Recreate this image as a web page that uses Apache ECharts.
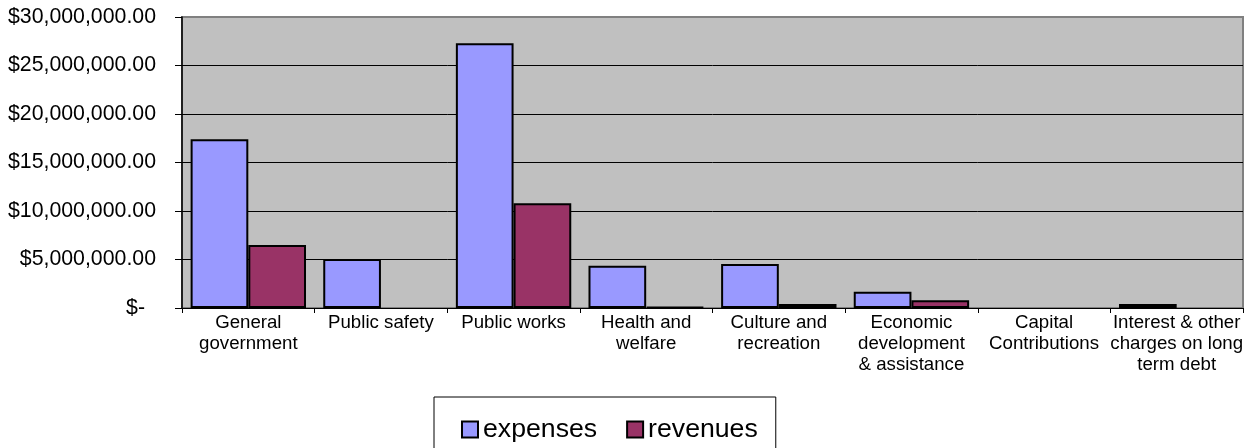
<!DOCTYPE html>
<html>
<head>
<meta charset="utf-8">
<script src="https://cdn.jsdelivr.net/npm/echarts@6/dist/echarts.min.js"></script>
<style>
  html, body { margin: 0; padding: 0; background: #fff; }
  #chart { width: 1253px; height: 448px; }
</style>
</head>
<body>
<div id="chart"></div>
<script>
// Functional categories (line breaks as they wrap under the axis)
const categories = [
  'General\ngovernment',
  'Public safety',
  'Public works',
  'Health and\nwelfare',
  'Culture and\nrecreation',
  'Economic\ndevelopment\n& assistance',
  'Capital\nContributions',
  'Interest & other\ncharges on long\nterm debt'
];

// Dollar amounts per category
const expenses = [17400000, 5050000, 27300000, 4350000, 4530000, 1670000, 0, 400000];
const revenues = [6500000, 0, 10800000, 100000, 400000, 800000, 0, 0];

const seriesNames = ['expenses', 'revenues'];

const FONT = "'Liberation Sans', Arial, sans-serif";

function money(v) {
  if (v === 0) return '{z|$-}';
  return '$' + v.toLocaleString('en-US', { minimumFractionDigits: 2, maximumFractionDigits: 2 });
}

// zero amounts get no outline, so no flat bar is drawn on the axis
function barItems(values) {
  return values.map(v => v === 0 ? { value: v, itemStyle: { borderWidth: 0, opacity: 0 } } : v);
}

const chart = echarts.init(document.getElementById('chart'), null, { renderer: 'canvas' });

chart.setOption({
  animation: false,
  backgroundColor: '#ffffff',
  grid: {
    left: 182, top: 17, right: 10, bottom: 140,
    show: true,
    backgroundColor: '#C0C0C0',
    borderColor: '#808080',
    borderWidth: 2
  },
  legend: {
    data: seriesNames,
    left: 434,
    top: 397,
    padding: [19, 18, 24, 27],
    borderColor: '#000',
    borderWidth: 1,
    backgroundColor: '#fff',
    itemWidth: 16,
    itemHeight: 16,
    itemGap: 29,
    icon: 'rect',
    itemStyle: { borderColor: '#000', borderWidth: 2, opacity: 1 },
    textStyle: { fontFamily: FONT, fontSize: 26.67, color: '#000', lineHeight: 18 }
  },
  xAxis: {
    type: 'category',
    data: categories,
    axisLine: { lineStyle: { color: '#000', width: 1 } },
    axisTick: { show: true, length: 5, lineStyle: { color: '#000' } },
    axisLabel: {
      interval: 0,
      margin: 4,
      fontFamily: FONT,
      fontSize: 18.67,
      lineHeight: 21,
      color: '#000'
    }
  },
  yAxis: {
    type: 'value',
    min: 0,
    max: 30000000,
    interval: 5000000,
    axisLine: { show: true, lineStyle: { color: '#000', width: 1.5 } },
    axisTick: { show: true, length: 7, lineStyle: { color: '#000' } },
    splitLine: { show: true, showMaxLine: false, lineStyle: { color: '#000', width: 1 } },
    axisLabel: {
      margin: 26,
      fontFamily: FONT,
      fontSize: 21.3,
      color: '#000',
      formatter: money,
      rich: { z: { fontFamily: FONT, fontSize: 21.3, color: '#000', padding: [0, 11, 0, 0] } }
    }
  },
  series: [
    {
      name: seriesNames[0],
      type: 'bar',
      data: barItems(expenses),
      barGap: '0%',
      barCategoryGap: '13%',
      itemStyle: { color: '#9999FF', borderColor: '#000', borderWidth: 2 }
    },
    {
      name: seriesNames[1],
      type: 'bar',
      data: barItems(revenues),
      barGap: '0%',
      barCategoryGap: '13%',
      itemStyle: { color: '#993366', borderColor: '#000', borderWidth: 2 }
    }
  ]
});
</script>
</body>
</html>
